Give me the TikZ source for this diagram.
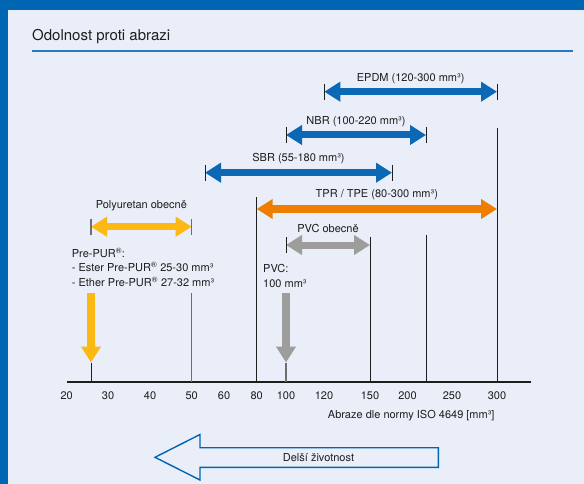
\documentclass[tikz,border=0pt]{standalone}
\usepackage{fontspec}
\setmainfont{TeX Gyre Heros}
\usetikzlibrary{arrows.meta}
\definecolor{framebl}{HTML}{0066B3}
\definecolor{paper}{HTML}{E9EEF8}
\definecolor{rulebl}{HTML}{2A78C0}
\definecolor{abrblue}{HTML}{0A68B4}
\definecolor{abrorange}{HTML}{EF7D00}
\definecolor{abryellow}{HTML}{FDB913}
\definecolor{abrgray}{HTML}{9D9D9C}
\definecolor{linegray}{HTML}{6E6E6E}
\definecolor{txt}{HTML}{1E1E1E}
\def\axisy{382}
\def\ticklen{8}
\def\droptop{293.3}
\def\droptip{362.5}
\tikzset{
    lbl/.style={font=\fontsize{11}{13}\selectfont, text=txt, inner sep=0pt},
    rangearrow/.style={line width=7pt, {Triangle[width=19pt,length=16pt]}-{Triangle[width=19pt,length=16pt]}},
    droparrow/.style={line width=8pt, -{Triangle[width=19pt,length=16pt]}},
    guideline/.style={draw=txt, line width=1pt},
    grayguide/.style={draw=linegray, line width=1.3pt},
}
\newcommand{\reg}{\textsuperscript{®}}
\newcommand{\abrange}[7][abrblue]{
    \coordinate (#2-l) at (#4,#3);
    \coordinate (#2-r) at (#5,#3);
    \draw [rangearrow, #1] (#2-l) -- (#2-r);
    \node [lbl] (#2-lab) at ({(#4+#5)/2},#6) {#7};
}
\newcommand{\capmark}[4][guideline]{
    \coordinate (#2-up) at (#3,#4-\ticklen);
    \coordinate (#2-dn) at (#3,#4+\ticklen);
    \draw [#1] (#2-up) -- (#2-dn);
}
\newcommand{\guide}[4][guideline]{
    \coordinate (#2-top) at (#3,#4);
    \coordinate (#2-ax) at (#3,\axisy);
    \draw [#1] (#2-top) -- (#2-ax);
}
\newcommand{\droparr}[3]{
    \coordinate (#2-from) at (#3,\droptop);
    \coordinate (#2-tip) at (#3,\droptip);
    \draw [droparrow, #1] (#2-from) -- (#2-tip);
}

\begin{document}
\begin{tikzpicture}[x=1pt, y=-1pt]
    \useasboundingbox (0,0) rectangle (584,484);
    % frame and title
    \fill [paper] (0,0) rectangle (584,484);
    \fill [framebl] (0,0) rectangle (584,10);
    \fill [framebl] (0,0) rectangle (8,484);
    \node [lbl, font=\fontsize{15}{18}\selectfont, anchor=base west] (title) at (32,40.5) {Odolnost proti abrazi};
    \coordinate (rule-l) at (32,51);
    \coordinate (rule-r) at (573,51);
    \draw [rulebl, line width=2.2pt] (rule-l) -- (rule-r);

    % axis
    \coordinate (ax-l) at (67,\axisy);
    \coordinate (ax-r) at (531,\axisy);
    \draw [txt, line width=1.8pt] (ax-l) -- (ax-r);
    \foreach \v/\x in {20/66.7, 30/108, 40/150, 50/191.7, 60/224, 80/256.7, 100/286, 120/324, 150/370, 200/407.5, 250/452, 300/497}
        \node [lbl] (num\v) at (\x,395.5) {\v};
    \node [lbl] (axtitle) at (411.2,416) {Abraze dle normy ISO 4649 [mm³]};

    % long guide lines
    \guide{g80}{256.7}{197}
    \guide{g150}{370}{236.7}
    \guide{g220}{426}{234.5}
    \guide{g300}{497}{128}
    \guide[grayguide]{g50}{191.7}{\droptop}

    % ranges
    \abrange{epdm}{91.7}{324.3}{497}{78.3}{EPDM (120-300 mm³)}
    \capmark{epdm-lt}{324.3}{91.7}
    \capmark{epdm-rt}{497}{91.7}
    \abrange{nbr}{135}{286}{426}{121.7}{NBR (100-220 mm³)}
    \capmark{nbr-lt}{286}{135}
    \capmark{nbr-rt}{426}{135}
    \abrange{sbr}{172.7}{205}{392}{158.3}{SBR (55-180 mm³)}
    \capmark{sbr-lt}{205}{172.7}
    \capmark{sbr-rt}{392}{172.7}
    \abrange[abrorange]{tpr}{209}{256.7}{497}{195}{TPR / TPE (80-300 mm³)}
    \abrange[abrgray]{pvcg}{245}{286}{370}{228.3}{PVC obecně}
    \capmark{pvcg-lt}{286}{245}
    \abrange[abryellow]{pur}{226.7}{91}{191.7}{205.3}{Polyuretan obecně}
    \capmark[grayguide]{pur-lt}{91}{226.7}
    \capmark[grayguide]{pur-rt}{191.7}{226.7}

    % single values
    \node [lbl, font=\fontsize{11}{14.5}\selectfont, align=left, anchor=west] (prepur) at (71.7,267)
        {Pre-PUR\reg:\\- Ester Pre-PUR\reg{} 25-30 mm³\\- Ether Pre-PUR\reg{} 27-32 mm³};
    \droparr{abryellow}{prepur-d}{91}
    \guide{prepur-g}{91}{\droptip}
    \node [lbl, font=\fontsize{11}{14.5}\selectfont, align=left, anchor=west] (pvc) at (263,276) {PVC:\\100 mm³};
    \droparr{abrgray}{pvc-d}{286}
    \guide[grayguide]{pvc-g}{286}{\droptip}

    % longer life
    \draw [framebl, line width=1.4pt] (155,457.3) -- (200,434.5) -- (200,447.7) -- (438.3,447.7)
        -- (438.3,467.3) -- (200,467.3) -- (200,480) -- cycle;
    \node [lbl] (life) at (318.5,457.3) {Delší životnost};
\end{tikzpicture}
\end{document}
